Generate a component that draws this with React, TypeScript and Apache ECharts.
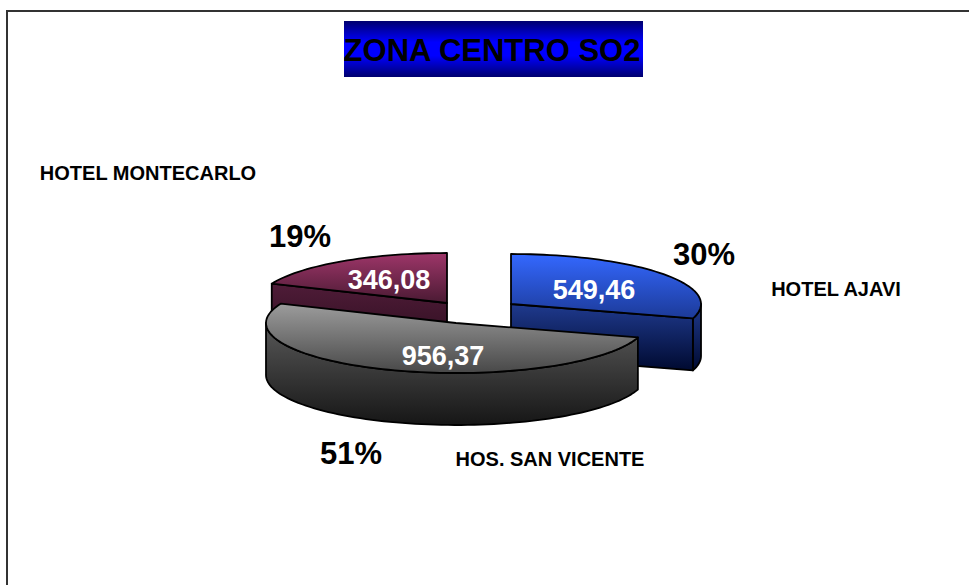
import React, { useEffect, useRef } from "react";
import * as echarts from "echarts";

const titleText = "ZONA CENTRO SO2";
const categories = ["HOTEL AJAVI", "HOS. SAN VICENTE", "HOTEL MONTECARLO"];
const values = [549.46, 956.37, 346.08];
const percentLabels = ["30%", "51%", "19%"];

const FONT = '"Liberation Sans", Arial, sans-serif';
const RX = 190;
const RY = 50;
const DEPTH = 52;
const centers = [[511, 304], [456, 323], [447, 303]];
const paintOrder = [10, 30, 20];
const valuePos = [[594, 290], [443, 356], [389, 280]];
const percentPos = [[704, 254], [351, 453], [300, 236]];
const categoryPos = [[836, 289], [550, 459], [148, 173]];
const topColors = [["#3468ff", "#1c3a98"], ["#9c9c9c", "#484848"], ["#9e3669", "#4a1a33"]];
const wallColors = [["#1f3a8e", "#000a30"], ["#585858", "#161616"], ["#4f1c38", "#2a0c1c"]];

const total = values.reduce((a, b) => a + b, 0);
const startAngles = values.map((_, i) => (values.slice(0, i).reduce((a, b) => a + b, 0) / total) * 360);

function grad(c: string[]) {
  return new echarts.graphic.LinearGradient(0, 0, 0, 1, [
    { offset: 0, color: c[0] },
    { offset: 1, color: c[1] },
  ]);
}

function pt(c: number[], deg: number, dy = 0) {
  const a = (deg * Math.PI) / 180;
  return [c[0] + RX * Math.sin(a), c[1] - RY * Math.cos(a) + dy];
}

function arc(c: number[], a0: number, a1: number, dy = 0) {
  const pts: number[][] = [];
  const n = Math.max(1, Math.ceil(Math.abs(a1 - a0) / 2));
  for (let k = 0; k <= n; k++) pts.push(pt(c, a0 + ((a1 - a0) * k) / n, dy));
  return pts;
}

function renderItem(params: any, api: any) {
  const i = params.dataIndex;
  const sweep = (api.value(0) / total) * 360;
  const a0 = startAngles[i];
  const a1 = a0 + sweep;
  const c = centers[i];
  const z = paintOrder[i];
  const edge = { stroke: "#000", lineWidth: 1.8, lineJoin: "round" };
  const children: any[] = [];
  const wall = (points: number[][]) =>
    children.push({
      type: "polygon",
      z2: z,
      shape: { points },
      style: { ...edge, fill: grad(wallColors[i]) },
    });

  const from = Math.max(a0, 90);
  const to = Math.min(a1, 270);
  if (to > from) wall([...arc(c, from, to), ...arc(c, to, from, DEPTH)]);
  const sinA0 = Math.sin((a0 * Math.PI) / 180);
  const sinA1 = Math.sin((a1 * Math.PI) / 180);
  if (sinA1 > 0.001) wall([c, pt(c, a1), pt(c, a1, DEPTH), [c[0], c[1] + DEPTH]]);
  if (sinA0 < -0.001) wall([c, pt(c, a0), pt(c, a0, DEPTH), [c[0], c[1] + DEPTH]]);

  children.push({
    type: "polygon",
    z2: z + 1,
    shape: { points: [c, ...arc(c, a0, a1)] },
    style: { ...edge, fill: grad(topColors[i]) },
  });

  const text = (pos: number[], s: string, size: number, fill: string) =>
    children.push({
      type: "text",
      z2: 100,
      x: pos[0],
      y: pos[1],
      style: {
        text: s,
        fill,
        fontSize: size,
        fontWeight: "bold",
        fontFamily: FONT,
        align: "center",
        verticalAlign: "middle",
      },
    });
  text(valuePos[i], api.value(0).toFixed(2).replace(".", ","), 27, "#fff");
  text(percentPos[i], percentLabels[i], 31, "#000");
  text(categoryPos[i], categories[i], 20, "#000");

  return { type: "group", children };
}

export default function App() {
  const ref = useRef<HTMLDivElement>(null);
  useEffect(() => {
    const chart = echarts.init(ref.current!, null, { renderer: "svg" });
    chart.setOption({
      animation: false,
      backgroundColor: "#fff",
      graphic: [
        {
          type: "rect",
          z: 0,
          shape: { x: 7, y: 11, width: 1100, height: 800 },
          style: { fill: "#fff", stroke: "#333", lineWidth: 2 },
        },
        {
          type: "rect",
          z: 1,
          shape: { x: 344, y: 21, width: 299, height: 56 },
          style: {
            fill: new echarts.graphic.LinearGradient(0, 0, 0, 1, [
              { offset: 0, color: "#00006e" },
              { offset: 0.38, color: "#0000ff" },
              { offset: 0.62, color: "#0000ff" },
              { offset: 1, color: "#00006e" },
            ]),
          },
        },
        {
          type: "text",
          x: 492,
          y: 50,
          z: 5,
          style: {
            text: titleText,
            fill: "#000",
            fontSize: 31,
            fontWeight: "bold",
            fontFamily: FONT,
            align: "center",
            verticalAlign: "middle",
          },
        },
      ],
      series: [
        {
          type: "custom",
          coordinateSystem: "none",
          silent: true,
          z: 3,
          renderItem,
          data: values.map((value, i) => ({ name: categories[i], value })),
        },
      ],
    });
    return () => chart.dispose();
  }, []);
  return (
    <div
      ref={ref}
      style={{ position: "absolute", left: 0, top: 0, width: 969, height: 585 }}
    />
  );
}
